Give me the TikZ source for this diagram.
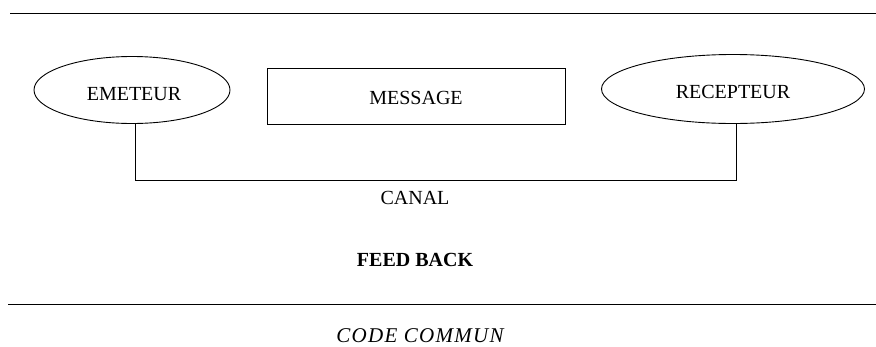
\documentclass[tikz,border=0pt]{standalone}
\usepackage{fontspec}
\setmainfont{Liberation Serif}
\usetikzlibrary{shapes.geometric}
\begin{document}
\begin{tikzpicture}[x=1pt,y=-1pt,
  lbl/.style={inner sep=0pt,font=\fontsize{20}{22}\selectfont},
  oval/.style={draw,line width=0.9pt,ellipse,inner sep=0pt},
  box/.style={draw,line width=0.9pt,rectangle,inner sep=0pt},
  wire/.style={line width=0.9pt}]
\useasboundingbox (0,0) rectangle (876,346);
\coordinate (tl) at (10,13);
\coordinate (tr) at (876,13);
\coordinate (bl) at (8,304);
\coordinate (br) at (876,304);
\draw[wire] (tl) -- (tr);
\draw[wire] (bl) -- (br);
\node[oval,minimum width=196pt,minimum height=67pt] (em) at (132,90) {};
\node[lbl] (emt) at (134,94) {EMETEUR};
\node[box,minimum width=298pt,minimum height=56pt] (msg) at (416,96) {};
\node[lbl] (msgt) at (416,98) {MESSAGE};
\node[oval,minimum width=263pt,minimum height=69pt] (rec) at (733,89) {};
\node[lbl] (rect) at (733,92) {RECEPTEUR};
\coordinate (c1) at (135,180);
\coordinate (c2) at (736,180);
\draw[wire] (em.south -| c1) -- (c1) -- (c2) -- (rec.south -| c2);
\node[lbl] (canal) at (415,198) {CANAL};
\node[lbl,font=\fontsize{20}{22}\selectfont\bfseries] (fb) at (415,260) {FEED BACK};
\node[lbl,font=\fontsize{21}{24}\selectfont\itshape\addfontfeature{LetterSpace=6}] (code) at (420,336) {CODE COMMUN};
\end{tikzpicture}
\end{document}
